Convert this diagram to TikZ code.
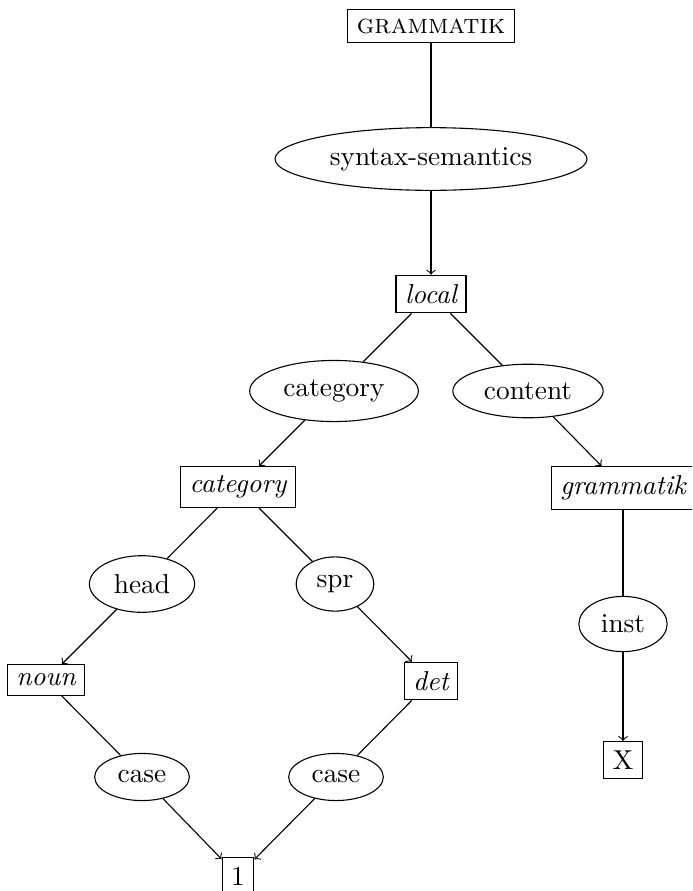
\documentclass[tikz,border=0pt]{standalone}
\usetikzlibrary{shapes.geometric}
\begin{document}
\begin{tikzpicture}[x=0.3658pt,y=-0.3658pt,
  typebox/.style={draw,rectangle,inner sep=3.33pt,font=\itshape},
  plainbox/.style={draw,rectangle,inner sep=3.33pt},
  attr/.style={draw,ellipse,inner xsep=3.33pt,inner ysep=3.8pt},
  arr/.style={->}]
\clip (0,0) rectangle (692,891);
\useasboundingbox (0,0) rectangle (692,891);
\node[plainbox] (gr) at (431,26) {\textsc{grammatik}};
\node[attr] (syn) at (431,159) {syntax-semantics};
\node[typebox] (loc) at (431,294) {local};
\node[attr] (cat) at (334,391) {category};
\node[attr] (cont) at (528,391) {content};
\node[typebox] (catb) at (238,487) {category};
\node[typebox] (gram) at (623,488) {grammatik};
\node[attr] (head) at (142,584) {head};
\node[attr] (spr) at (335,584) {spr};
\node[attr] (inst) at (623,624) {inst};
\node[typebox] (noun) at (46,680) {noun};
\node[typebox] (det) at (431,681) {det};
\node[plainbox] (x) at (623,760) {X};
\node[attr] (case1) at (142,777) {case};
\node[attr] (case2) at (336,777) {case};
\node[plainbox] (one) at (238,876) {1};
\draw (gr) -- (syn);
\draw[arr] (syn) -- (loc);
\draw (loc) -- (cat);
\draw[arr] (cat) -- (catb);
\draw (loc) -- (cont);
\draw[arr] (cont) -- (gram);
\draw (catb) -- (head);
\draw[arr] (head) -- (noun);
\draw (catb) -- (spr);
\draw[arr] (spr) -- (det);
\draw (gram) -- (inst);
\draw[arr] (inst) -- (x);
\draw (noun) -- (case1);
\draw[arr] (case1) -- (one);
\draw (det) -- (case2);
\draw[arr] (case2) -- (one);
\end{tikzpicture}
\end{document}
